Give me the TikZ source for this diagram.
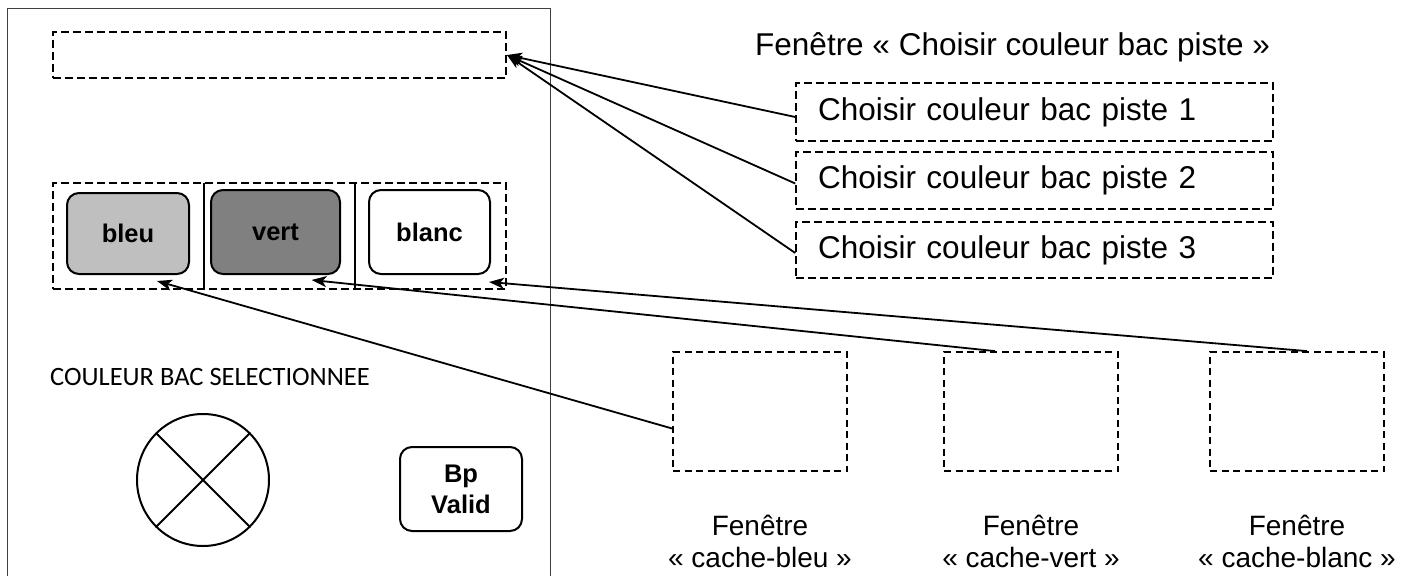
\documentclass[tikz,border=0pt]{standalone}
\usepackage{fontspec}
\setmainfont{Liberation Sans}
\newfontfamily\calib{Carlito}
\usetikzlibrary{arrows.meta}
\definecolor{lgray}{HTML}{BFBFBF}
\definecolor{dgray}{HTML}{808080}
\begin{document}
\begin{tikzpicture}[x=1pt,y=-1pt,
  dboxA/.style={draw, line width=2pt, dash pattern=on 8pt off 4pt, inner sep=0pt},
  dboxB/.style={draw, line width=1.5pt, dash pattern=on 8pt off 4pt},
  dboxC/.style={draw, line width=1.8pt, dash pattern=on 7pt off 4.5pt, inner sep=0pt},
  btn/.style={draw, line width=2pt, rounded corners=12pt, inner sep=0pt,
    font=\fontsize{25.5pt}{31pt}\selectfont\bfseries, align=center},
  bigtxt/.style={font=\fontsize{31.5pt}{36pt}\selectfont},
  smalltxt/.style={font=\fontsize{28pt}{31.5pt}\selectfont, align=center, inner sep=0pt},
  conn/.style={line width=1.8pt, -{Stealth[length=15pt,width=11pt,inset=4pt]}},
  plain/.style={line width=1.8pt}
]
\useasboundingbox (0,0) rectangle (1412,575);
\fill[white] (0,0) rectangle (1412,575);

% outer frame
\draw[line width=1pt, black!75] (7,9) rectangle (550,600);

% top-left dashed field
\node[dboxA, minimum width=453pt, minimum height=46pt] (field) at (279.5,55) {};

% buttons row
\node[dboxA, minimum width=453pt, minimum height=106pt] (row) at (279.5,236) {};
\draw[plain] (204,183) -- (204,289);
\draw[plain] (355,183) -- (355,289);
\node[btn, fill=lgray, minimum width=122pt, minimum height=81pt] (bleu) at (128,233.5) {bleu};
\node[btn, fill=dgray, minimum width=129pt, minimum height=84pt] (vert) at (275.5,232) {vert};
\node[btn, fill=white, minimum width=121pt, minimum height=84pt] (blanc) at (429.5,232) {blanc};

% selected colour
\node[anchor=base west, inner sep=0pt, font=\calib\fontsize{26.5pt}{30pt}\selectfont] (sel) at (50,385) {COULEUR BAC SELECTIONNEE};
\node[draw, circle, line width=2pt, minimum size=132pt, inner sep=0pt] (lamp) at (203,480) {};
\draw[plain] (lamp.north west) -- (lamp.south east);
\draw[plain] (lamp.north east) -- (lamp.south west);
\node[btn, minimum width=122pt, minimum height=84pt] (bp) at (461,489) {Bp\\Valid};

% window "Choisir couleur bac piste"
\node[anchor=base west, inner sep=0pt, bigtxt] (title) at (755,56) {Fenêtre « Choisir couleur bac piste »};
\node[dboxB, bigtxt, minimum height=58pt, text width=433pt, inner xsep=22pt, inner ysep=0pt, align=left] (p1) at (1034.5,112) {Choisir couleur bac piste 1};
\node[dboxB, bigtxt, minimum height=57pt, text width=433pt, inner xsep=22pt, inner ysep=0pt, align=left] (p2) at (1034.5,180.5) {Choisir couleur bac piste 2};
\node[dboxB, bigtxt, minimum height=56pt, text width=433pt, inner xsep=22pt, inner ysep=0pt, align=left] (p3) at (1034.5,250) {Choisir couleur bac piste 3};

\draw[conn] ([yshift=-5pt]p1.west) -- (field.east);
\draw[conn] ([yshift=-3pt]p2.west) -- (field.east);
\draw[conn] ([yshift=-3pt]p3.west) -- (field.east);

% cache windows
\node[dboxC, minimum width=174pt, minimum height=119pt] (cb) at (760,411.5) {};
\node[dboxC, minimum width=174pt, minimum height=119pt] (cv) at (1031,411.5) {};
\node[dboxC, minimum width=174pt, minimum height=119pt] (cw) at (1297,411.5) {};
\node[smalltxt, anchor=base] (lb) at (760,567) {Fenêtre\\« cache-bleu »};
\node[smalltxt, anchor=base] (lv) at (1031,567) {Fenêtre\\« cache-vert »};
\node[smalltxt, anchor=base] (lw) at (1297,567) {Fenêtre\\« cache-blanc »};

\draw[conn] ([yshift=-17pt]cb.west) -- ([xshift=29pt,yshift=-6pt]bleu.south);
\draw[conn] ([xshift=-36pt]cv.north) -- ([xshift=36pt,yshift=-5pt]vert.south);
\draw[conn] ([xshift=10pt]cw.north) -- ([xshift=-2pt,yshift=-7pt]blanc.south east);
\end{tikzpicture}
\end{document}
